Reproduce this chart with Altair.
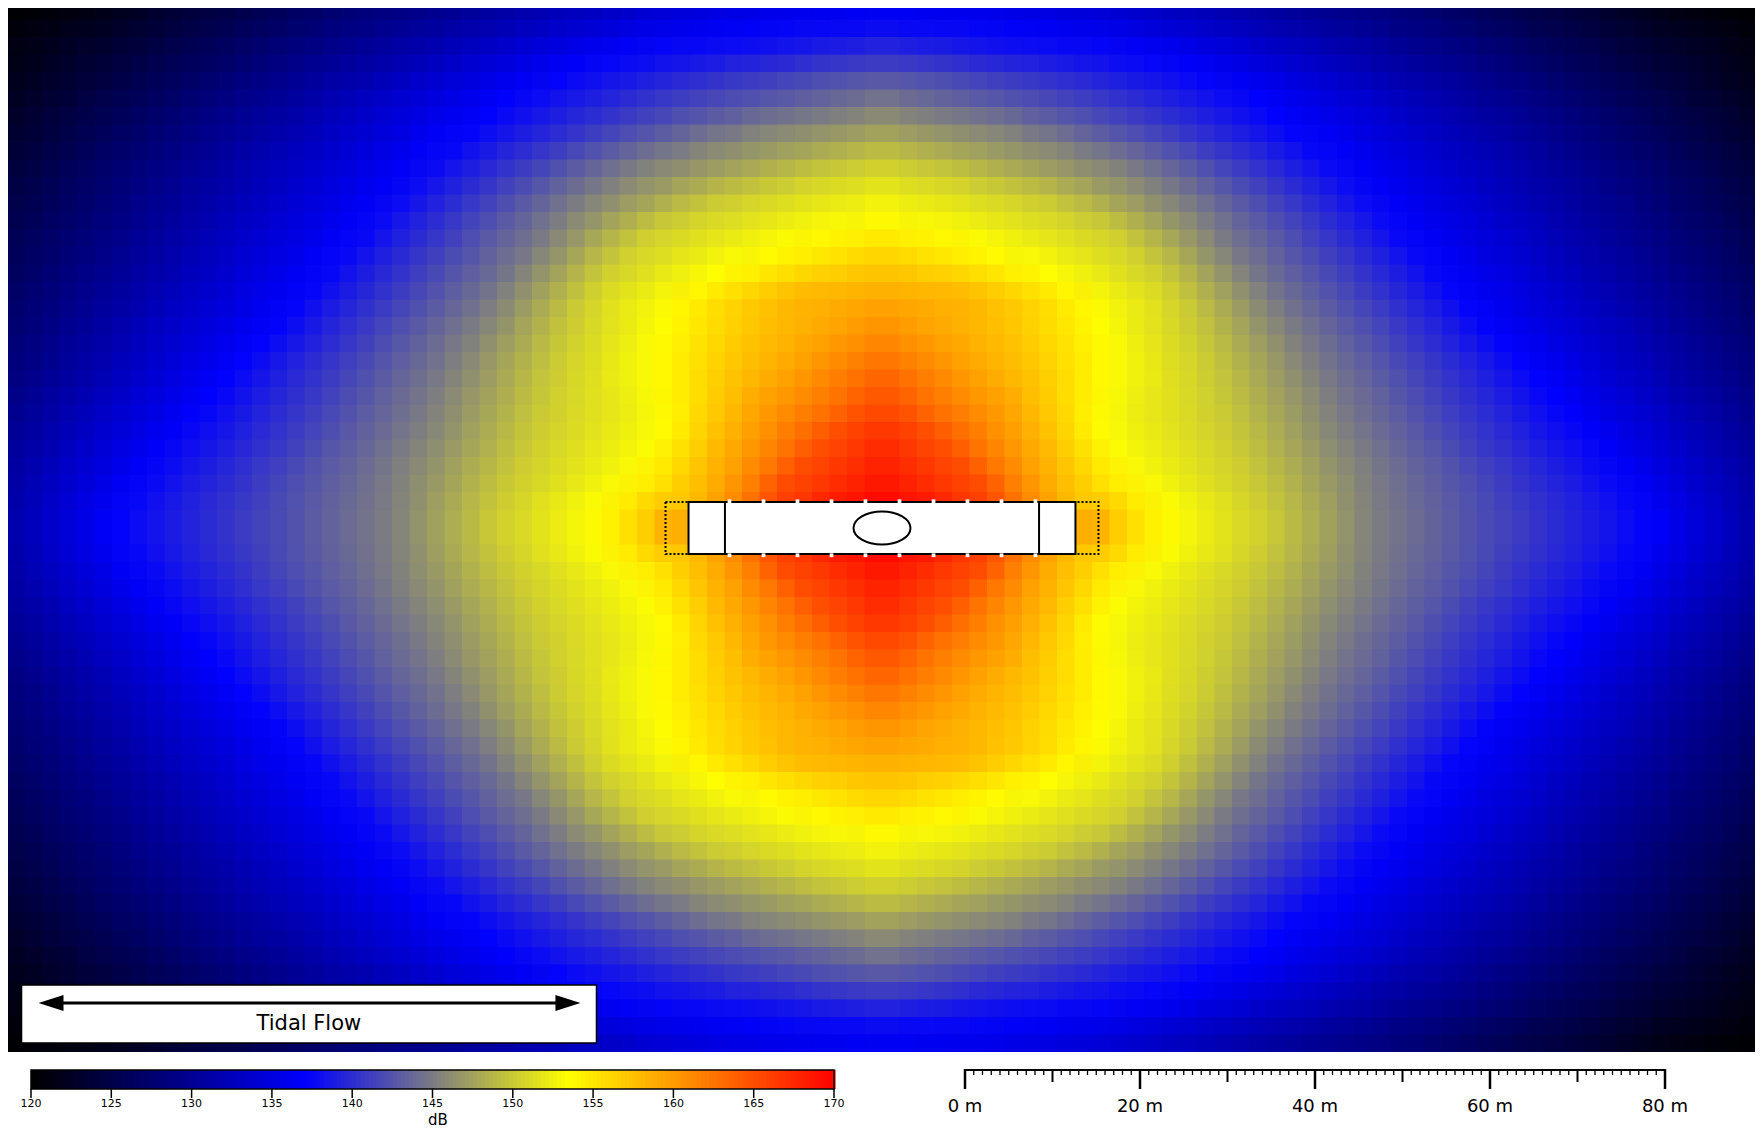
import altair as alt
import pandas as pd

# ---------------- sound field (dB) ----------------
# Field is mirror-symmetric about both device axes, so one quadrant is kept.
# Grid A: 4 m cells centred on (2, 6, ... m); grid B: 4 m cells centred on (0, 4, ... m),
# drawn half-transparent over grid A.
X_CENTRES = [2, 6, 10, 14, 18, 22, 26, 30, 34, 38, 42, 46, 50, 54, 58, 62, 66, 70, 74, 78, 82, 86, 90, 94, 98]
Y_CENTRES = [2, 6, 10, 14, 18, 22, 26, 30, 34, 38, 42, 46, 50, 54, 58]
XO_CENTRES = [0, 4, 8, 12, 16, 20, 24, 28, 32, 36, 40, 44, 48, 52, 56, 60, 64, 68, 72, 76, 80, 84, 88, 92, 96, 100]
YO_CENTRES = [0, 4, 8, 12, 16, 20, 24, 28, 32, 36, 40, 44, 48, 52, 56, 60]
CELL = 4.0
X_LIMIT = 100.0
Y_LIMIT = 60.0

DB_Y02 = [169.5, 168.5, 166.5, 163.8, 160.4, 157.5, 157.0, 154.6, 153.0, 151.8, 150.6, 149.2, 147.6, 145.9, 144.6, 143.5, 142.5, 141.5, 140.5, 139.5, 138.4, 137.4, 135.8, 133.9, 132.0]
DB_Y06 = [167.6, 166.3, 165.0, 162.0, 159.1, 156.7, 154.4, 152.8, 151.9, 150.9, 150.0, 148.5, 147.0, 145.6, 144.3, 143.2, 142.1, 141.0, 139.9, 138.8, 137.7, 136.4, 134.7, 133.0, 131.3]
DB_Y10 = [166.4, 164.9, 162.6, 160.3, 158.2, 155.6, 153.1, 152.2, 151.3, 150.4, 149.3, 147.8, 146.3, 144.9, 143.7, 142.5, 141.3, 140.1, 139.0, 137.9, 136.6, 135.1, 133.6, 132.1, 130.6]
DB_Y14 = [164.2, 162.2, 160.8, 159.4, 157.3, 155.0, 153.0, 151.8, 151.1, 150.1, 148.7, 147.1, 145.6, 144.2, 143.0, 141.7, 140.5, 139.3, 138.1, 136.8, 135.4, 134.0, 132.6, 131.1, 129.7]
DB_Y18 = [162.4, 160.9, 159.4, 158.1, 156.8, 155.1, 153.4, 152.2, 151.0, 149.7, 148.1, 146.4, 144.8, 143.6, 142.3, 141.0, 139.7, 138.4, 137.1, 135.7, 134.3, 132.9, 131.5, 130.1, 128.7]
DB_Y22 = [160.4, 159.4, 158.4, 157.4, 156.1, 154.6, 153.1, 151.8, 150.6, 149.1, 147.3, 145.5, 144.0, 142.6, 141.3, 139.9, 138.5, 137.2, 135.9, 134.6, 133.3, 132.0, 130.7, 129.4, 128.1]
DB_Y26 = [158.9, 158.6, 158.3, 157.1, 155.9, 154.2, 152.8, 151.7, 150.2, 148.2, 146.1, 144.3, 142.9, 141.5, 140.1, 138.7, 137.3, 136.1, 134.8, 133.6, 132.4, 131.1, 129.9, 128.6, 127.4]
DB_Y30 = [156.5, 155.6, 154.8, 153.9, 153.1, 152.2, 151.3, 150.3, 148.7, 146.5, 144.6, 143.1, 141.7, 140.3, 138.9, 137.5, 136.2, 135.0, 133.8, 132.6, 131.4, 130.2, 129.0, 127.8, 126.6]
DB_Y34 = [153.9, 153.4, 152.8, 152.1, 151.5, 150.8, 150.2, 148.6, 146.7, 144.9, 143.4, 142.0, 140.5, 139.1, 137.6, 136.3, 135.2, 134.0, 132.9, 131.7, 130.5, 129.4, 128.2, 127.1, 125.9]
DB_Y38 = [151.9, 151.5, 151.0, 150.4, 149.7, 148.5, 147.3, 146.1, 144.8, 143.4, 142.0, 140.5, 139.1, 137.7, 136.4, 135.3, 134.2, 133.0, 131.9, 130.8, 129.6, 128.5, 127.3, 126.2, 125.1]
DB_Y42 = [149.6, 148.9, 148.1, 147.4, 146.6, 145.8, 145.1, 143.9, 142.6, 141.3, 140.1, 138.8, 137.6, 136.4, 135.3, 134.2, 133.1, 132.0, 130.9, 129.8, 128.7, 127.6, 126.5, 125.4, 124.3]
DB_Y46 = [146.4, 145.9, 145.4, 144.8, 143.8, 142.9, 141.9, 141.0, 140.1, 139.1, 138.2, 137.2, 136.2, 135.1, 134.1, 133.0, 131.9, 130.8, 129.8, 128.7, 127.6, 126.5, 125.5, 124.4, 123.3]
DB_Y50 = [143.4, 142.9, 142.3, 141.8, 141.2, 140.6, 139.9, 139.1, 138.3, 137.6, 136.7, 135.7, 134.7, 133.6, 132.6, 131.6, 130.6, 129.5, 128.5, 127.5, 126.4, 125.4, 124.4, 123.3, 122.3]
DB_Y54 = [139.8, 139.4, 139.0, 138.6, 138.3, 137.9, 137.5, 137.1, 136.3, 135.4, 134.4, 133.5, 132.6, 131.7, 130.7, 129.8, 128.9, 128.0, 127.0, 126.1, 125.2, 124.2, 123.3, 122.4, 121.5]
DB_Y58 = [136.7, 136.5, 136.3, 136.0, 135.7, 135.2, 134.7, 134.1, 133.4, 132.6, 131.8, 131.0, 130.2, 129.5, 128.7, 128.0, 127.1, 126.2, 125.3, 124.5, 123.6, 122.6, 121.6, 121.1, 120.6]
DB_ROWS = [DB_Y02, DB_Y06, DB_Y10, DB_Y14, DB_Y18, DB_Y22, DB_Y26, DB_Y30,
           DB_Y34, DB_Y38, DB_Y42, DB_Y46, DB_Y50, DB_Y54, DB_Y58]

DBO_Y00 = [170.0, 169.5, 168.0, 165.5, 162.5, 160.0, 159.5, 156.0, 153.8, 152.3, 151.2, 150.2, 148.5, 146.9, 145.2, 144.1, 143.1, 142.0, 141.0, 140.0, 139.0, 138.0, 137.0, 135.0, 133.0, 131.0]
DBO_Y04 = [169.3, 167.9, 166.4, 165.0, 161.4, 158.4, 156.3, 154.4, 152.9, 151.8, 150.8, 149.6, 148.1, 146.5, 145.0, 143.9, 142.9, 141.8, 140.7, 139.7, 138.6, 137.5, 136.1, 134.3, 132.6, 130.8]
DBO_Y08 = [167.8, 166.4, 164.9, 162.3, 159.8, 157.5, 155.0, 153.0, 152.1, 151.1, 150.2, 148.9, 147.4, 145.9, 144.6, 143.4, 142.3, 141.1, 140.0, 138.9, 137.8, 136.5, 134.9, 133.4, 131.8, 130.2]
DBO_Y12 = [166.2, 164.9, 162.8, 160.8, 158.8, 156.6, 153.8, 152.5, 151.6, 150.7, 149.7, 148.2, 146.7, 145.2, 143.9, 142.7, 141.5, 140.3, 139.1, 137.9, 136.7, 135.2, 133.8, 132.3, 130.9, 129.4]
DBO_Y16 = [164.3, 162.7, 161.0, 159.4, 157.8, 156.0, 154.0, 152.6, 151.6, 150.5, 149.2, 147.6, 146.0, 144.5, 143.3, 142.0, 140.7, 139.5, 138.2, 137.0, 135.5, 134.1, 132.7, 131.3, 129.9, 128.5]
DBO_Y20 = [162.1, 160.7, 159.4, 158.3, 157.2, 155.6, 154.0, 152.6, 151.4, 150.2, 148.6, 146.9, 145.1, 143.8, 142.5, 141.1, 139.8, 138.5, 137.1, 135.8, 134.5, 133.1, 131.8, 130.5, 129.1, 127.8]
DBO_Y24 = [160.0, 159.2, 158.4, 157.6, 156.6, 155.1, 153.5, 152.2, 151.0, 149.6, 147.7, 145.7, 144.1, 142.7, 141.4, 140.0, 138.7, 137.2, 136.0, 134.7, 133.4, 132.2, 130.9, 129.6, 128.4, 127.1]
DBO_Y28 = [157.9, 157.5, 157.1, 156.0, 154.7, 153.4, 152.4, 151.3, 150.3, 148.4, 146.3, 144.4, 143.0, 141.6, 140.2, 138.8, 137.4, 136.1, 135.0, 133.7, 132.5, 131.3, 130.1, 128.9, 127.6, 126.4]
DBO_Y32 = [155.5, 154.8, 154.1, 153.4, 152.6, 151.8, 151.0, 150.2, 148.6, 146.6, 144.7, 143.3, 141.8, 140.4, 139.0, 137.5, 136.3, 135.1, 133.9, 132.7, 131.5, 130.3, 129.2, 128.0, 126.8, 125.6]
DBO_Y36 = [153.1, 152.5, 152.0, 151.4, 150.8, 150.3, 149.3, 147.8, 146.3, 144.9, 143.4, 142.0, 140.5, 139.1, 137.7, 136.4, 135.2, 134.1, 133.0, 131.8, 130.7, 129.5, 128.4, 127.2, 126.0, 124.9]
DBO_Y40 = [151.1, 150.5, 150.0, 149.1, 148.2, 147.3, 146.4, 145.5, 144.3, 143.0, 141.6, 140.3, 139.0, 137.7, 136.4, 135.3, 134.2, 133.1, 132.0, 130.8, 129.7, 128.6, 127.5, 126.4, 125.2, 124.1]
DBO_Y44 = [148.3, 147.6, 147.0, 146.3, 145.7, 145.0, 143.9, 142.8, 141.7, 140.6, 139.5, 138.5, 137.4, 136.3, 135.2, 134.1, 133.0, 131.9, 130.9, 129.8, 128.7, 127.6, 126.5, 125.4, 124.3, 123.2]
DBO_Y48 = [145.1, 144.4, 143.8, 143.1, 142.5, 141.8, 141.2, 140.4, 139.5, 138.7, 137.8, 137.0, 135.9, 134.9, 133.9, 132.8, 131.8, 130.7, 129.7, 128.6, 127.6, 126.5, 125.5, 124.4, 123.4, 122.3]
DBO_Y52 = [141.8, 141.4, 141.0, 140.4, 139.9, 139.3, 138.7, 138.1, 137.6, 137.0, 136.0, 135.0, 134.1, 133.1, 132.1, 131.1, 130.2, 129.2, 128.2, 127.2, 126.3, 125.3, 124.3, 123.4, 122.4, 121.4]
DBO_Y56 = [138.4, 138.0, 137.8, 137.5, 137.1, 136.8, 136.3, 135.9, 135.2, 134.4, 133.6, 132.7, 131.9, 131.0, 130.2, 129.3, 128.5, 127.6, 126.7, 125.7, 124.9, 124.0, 123.1, 122.4, 121.6, 120.9]
DBO_Y60 = [135.6, 135.5, 135.4, 135.2, 134.8, 134.5, 133.9, 133.3, 132.6, 131.9, 131.2, 130.4, 129.7, 129.0, 128.3, 127.7, 126.8, 125.9, 125.1, 124.3, 123.5, 122.5, 121.5, 120.8, 120.4, 120.0]
DBO_ROWS = [DBO_Y00, DBO_Y04, DBO_Y08, DBO_Y12, DBO_Y16, DBO_Y20, DBO_Y24, DBO_Y28,
            DBO_Y32, DBO_Y36, DBO_Y40, DBO_Y44, DBO_Y48, DBO_Y52, DBO_Y56, DBO_Y60]

# ---------------- device outline (m) ----------------
OUTLINE_X = [-24.74, 24.74]
HULL_X = [-22.11, 22.11]
HULL_Y = [-3.09, 2.86]
DIVIDER_X = [-17.95, 17.95]
MARK_X = [-17.43, -13.54, -9.66, -5.77, -1.89, 2.0, 5.89, 9.77, 13.66, 17.54]
MARK_Y = [2.94, -3.23]
HUB = [0.0, -0.11]

# ---------------- tidal-flow legend box (m) ----------------
BOX_X = [-98.34, -32.63]
BOX_Y = [-52.34, -58.97]
ARROW_X = [-94.97, -35.89]
ARROW_Y = -54.4
LABEL_POS = [-65.5, -56.75]

# ---------------- colour bar & scale bar ----------------
CB_TICKS = [120, 125, 130, 135, 140, 145, 150, 155, 160, 165, 170]
CB_LABELS = ["120", "125", "130", "135", "140", "145", "150", "155", "160", "165", "170"]
SB_MAJOR = [0, 20, 40, 60, 80]
SB_LABELS = ["0 m", "20 m", "40 m", "60 m", "80 m"]
SB_MID = [10, 30, 50, 70]
SB_MINOR = [m for m in range(0, 81) if m % 10]


# ---------------- build tables ----------------
def mirrored_cells(x_centres, y_centres, rows):
    recs = []
    for yc, vals in zip(y_centres, rows):
        for xc, v in zip(x_centres, vals):
            for sx in ((1,) if xc == 0 else (-1, 1)):
                for sy in ((1,) if yc == 0 else (-1, 1)):
                    cx, cy = sx * xc, sy * yc
                    recs.append({
                        "x": max(cx - CELL / 2, -X_LIMIT), "x2": min(cx + CELL / 2, X_LIMIT),
                        "y": max(cy - CELL / 2, -Y_LIMIT), "y2": min(cy + CELL / 2, Y_LIMIT),
                        "db": v})
    return pd.DataFrame(recs)


field_a = mirrored_cells(X_CENTRES, Y_CENTRES, DB_ROWS)
field_b = mirrored_cells(XO_CENTRES, YO_CENTRES, DBO_ROWS)

cb_steps = pd.DataFrame({"db": [120 + 0.25 * i for i in range(200)]})
cb_steps["db2"] = cb_steps["db"] + 0.35

XM = alt.Scale(domain=[-100, 100], range=[-1, 1749], nice=False, zero=False)
YM = alt.Scale(domain=[-60, 60], range=[1044, -6], nice=False, zero=False)
CB = alt.Scale(domain=[120, 170], range=[23, 826], nice=False, zero=False)
SB = alt.Scale(domain=[0, 80], range=[957, 1657], nice=False, zero=False)
COLOR = alt.Scale(domain=[120, 137, 153.3, 170],
                  range=["#000000", "#0000ff", "#ffff00", "#ff0000"],
                  interpolate="rgb", clamp=True)
FONT = "DejaVu Sans"


def mx(f="x"):
    return alt.X(f"{f}:Q", scale=XM, axis=None)


def my(f="y"):
    return alt.Y(f"{f}:Q", scale=YM, axis=None)


heat_a = alt.Chart(field_a).mark_rect(strokeWidth=0).encode(
    x=mx(), x2="x2:Q", y=my(), y2="y2:Q",
    color=alt.Color("db:Q", scale=COLOR, legend=None))
heat_b = alt.Chart(field_b).mark_rect(strokeWidth=0, opacity=0.5).encode(
    x=mx(), x2="x2:Q", y=my(), y2="y2:Q",
    color=alt.Color("db:Q", scale=COLOR, legend=None))


def rect_df(xs):
    return pd.DataFrame({"x": [xs[0]], "x2": [xs[1]], "y": [HULL_Y[0]], "y2": [HULL_Y[1]]})


outline = alt.Chart(rect_df(OUTLINE_X)).mark_rect(
    fill="transparent", stroke="black", strokeWidth=2, strokeDash=[2, 2]).encode(
    x=mx(), x2="x2:Q", y=my(), y2="y2:Q")

hull = alt.Chart(rect_df(HULL_X)).mark_rect(
    fill="white", stroke="black", strokeWidth=2).encode(
    x=mx(), x2="x2:Q", y=my(), y2="y2:Q")

dividers = alt.Chart(pd.DataFrame({"x": DIVIDER_X, "y": HULL_Y[0], "y2": HULL_Y[1]})).mark_rule(
    color="black", strokeWidth=2).encode(x=mx(), y=my(), y2="y2:Q")

marks_df = pd.DataFrame([{"x": x, "y": y} for x in MARK_X for y in MARK_Y])
marks = alt.Chart(marks_df).mark_square(size=14, color="white", opacity=1).encode(x=mx(), y=my())

ELLIPSE = "M -1 0 A 1 0.58 0 1 1 1 0 A 1 0.58 0 1 1 -1 0 Z"
hub = alt.Chart(pd.DataFrame({"x": [HUB[0]], "y": [HUB[1]]})).mark_point(
    shape=ELLIPSE, size=3249, filled=False, color="black", strokeWidth=2, opacity=1).encode(
    x=mx(), y=my())

box = alt.Chart(pd.DataFrame({"x": [BOX_X[0]], "x2": [BOX_X[1]], "y": [BOX_Y[0]], "y2": [BOX_Y[1]]})).mark_rect(
    fill="white", stroke="black", strokeWidth=1.5).encode(x=mx(), x2="x2:Q", y=my(), y2="y2:Q")

arrow = alt.Chart(pd.DataFrame({"x": [ARROW_X[0]], "x2": [ARROW_X[1]], "y": [ARROW_Y]})).mark_rule(
    color="black", strokeWidth=3).encode(x=mx(), x2="x2:Q", y=my())

head_l = alt.Chart(pd.DataFrame({"x": [ARROW_X[0]], "y": [ARROW_Y]})).mark_point(
    shape="M -1 0 L 1 -0.64 L 1 0.64 Z", size=625, filled=True, color="black", opacity=1).encode(
    x=mx(), y=my())
head_r = alt.Chart(pd.DataFrame({"x": [ARROW_X[1]], "y": [ARROW_Y]})).mark_point(
    shape="M 1 0 L -1 -0.64 L -1 0.64 Z", size=625, filled=True, color="black", opacity=1).encode(
    x=mx(), y=my())

flow_txt = alt.Chart(pd.DataFrame({"x": [LABEL_POS[0]], "y": [LABEL_POS[1]], "t": ["Tidal Flow"]})).mark_text(
    font=FONT, fontSize=21, color="black", align="center", baseline="middle").encode(
    x=mx(), y=my(), text="t:N")

# colour bar
cb_fill = alt.Chart(cb_steps).mark_rect(strokeWidth=0).encode(
    x=alt.X("db:Q", scale=CB, axis=None), x2="db2:Q",
    y=alt.value(1062), y2=alt.value(1081),
    color=alt.Color("db:Q", scale=COLOR, legend=None))
cb_border = alt.Chart(pd.DataFrame({"a": [120], "b": [170]})).mark_rect(
    fill="transparent", stroke="black", strokeWidth=1.5).encode(
    x=alt.X("a:Q", scale=CB, axis=None), x2="b:Q", y=alt.value(1062), y2=alt.value(1081))
cb_df = pd.DataFrame({"v": CB_TICKS, "t": CB_LABELS})
cb_ticks = alt.Chart(cb_df).mark_rule(color="black", strokeWidth=1.5).encode(
    x=alt.X("v:Q", scale=CB, axis=None), y=alt.value(1081), y2=alt.value(1090))
cb_labels = alt.Chart(cb_df).mark_text(font=FONT, fontSize=11, color="black", baseline="middle").encode(
    x=alt.X("v:Q", scale=CB, axis=None), y=alt.value(1096), text="t:N")
cb_title = alt.Chart(pd.DataFrame({"t": ["dB"]})).mark_text(
    font=FONT, fontSize=15, color="black", baseline="bottom").encode(
    x=alt.value(430), y=alt.value(1120), text="t:N")

# scale bar
sb_line = alt.Chart(pd.DataFrame({"a": [0], "b": [80]})).mark_rule(color="black", strokeWidth=2).encode(
    x=alt.X("a:Q", scale=SB, axis=None), x2="b:Q", y=alt.value(1062))
sb_minor = alt.Chart(pd.DataFrame({"m": SB_MINOR})).mark_rule(color="black", strokeWidth=1.3).encode(
    x=alt.X("m:Q", scale=SB, axis=None), y=alt.value(1062), y2=alt.value(1067))
sb_mid = alt.Chart(pd.DataFrame({"m": SB_MID})).mark_rule(color="black", strokeWidth=2).encode(
    x=alt.X("m:Q", scale=SB, axis=None), y=alt.value(1062), y2=alt.value(1074))
sb_df = pd.DataFrame({"m": SB_MAJOR, "t": SB_LABELS})
sb_major = alt.Chart(sb_df).mark_rule(color="black", strokeWidth=2.5).encode(
    x=alt.X("m:Q", scale=SB, axis=None), y=alt.value(1061), y2=alt.value(1081))
sb_labels = alt.Chart(sb_df).mark_text(font=FONT, fontSize=18, color="black", baseline="middle").encode(
    x=alt.X("m:Q", scale=SB, axis=None), y=alt.value(1099), text="t:N")

chart = alt.layer(
    heat_a, heat_b, outline, hull, dividers, marks, hub,
    box, arrow, head_l, head_r, flow_txt,
    cb_fill, cb_border, cb_ticks, cb_labels, cb_title,
    sb_line, sb_minor, sb_mid, sb_major, sb_labels,
).resolve_scale(x="independent", y="independent").properties(
    width=1747, height=1120, padding=0,
    autosize=alt.AutoSizeParams(type="none"), background="white",
).configure_view(strokeWidth=0)

chart.save("out.html", embed_options={"renderer": "svg", "actions": False})
